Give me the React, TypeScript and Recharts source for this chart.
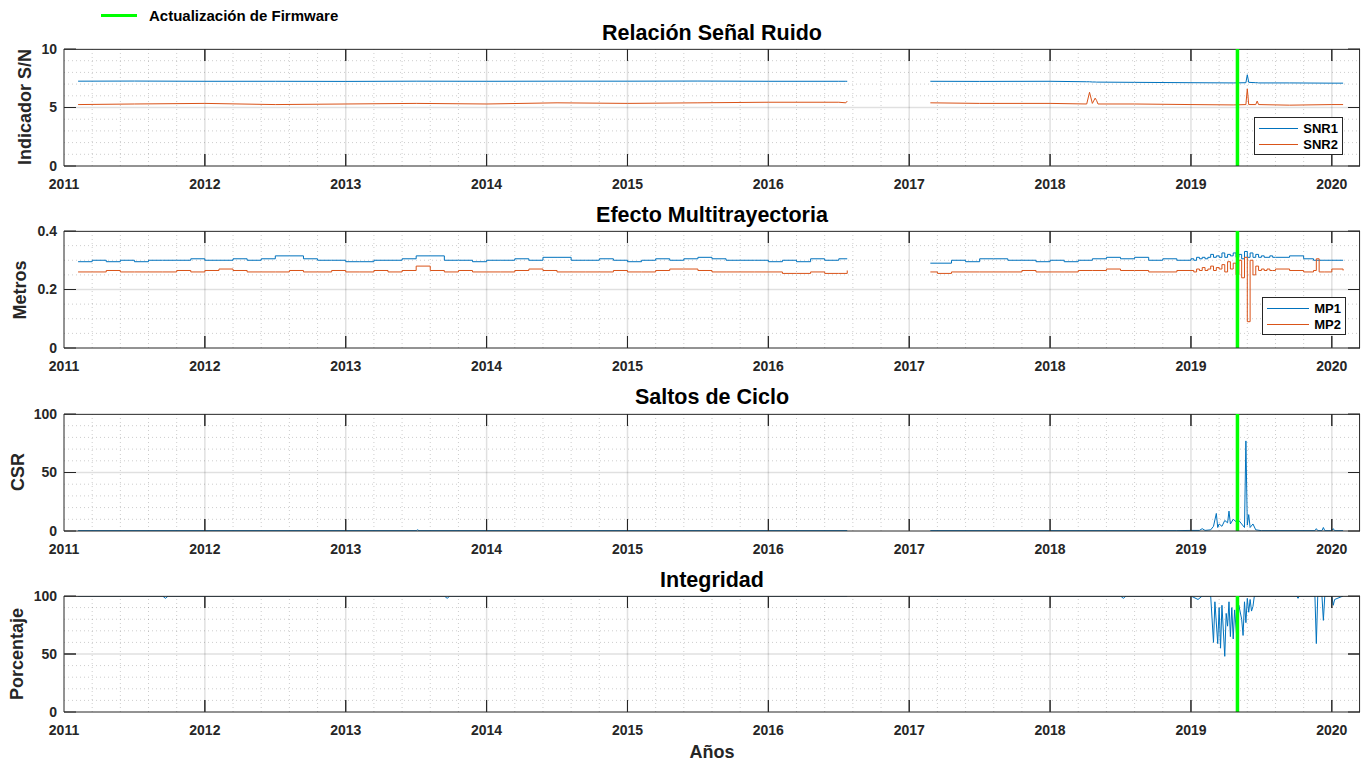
import { LineChart, Line, XAxis, YAxis, ReferenceLine } from 'recharts'

// eje x comun
const anios = [2011, 2012, 2013, 2014, 2015, 2016, 2017, 2018, 2019, 2020]
const firmware = 2019.33

// Relacion señal ruido
const snrFechas = [
  2011.1, 2011.5, 2012.0, 2012.5, 2013.0, 2013.5, 2014.0, 2014.5, 2015.0, 2015.5, 2016.0, 2016.5, 2016.55, 2016.56,
  2016.85,
  2017.15, 2017.5, 2018.0, 2018.26, 2018.28, 2018.3, 2018.32, 2018.33, 2018.34, 2018.6,
  2019.0, 2019.3, 2019.39, 2019.4, 2019.41, 2019.46, 2019.47, 2019.48, 2019.7, 2020.0, 2020.08,
]
const snr1 = [
  7.25, 7.26, 7.24, 7.24, 7.23, 7.25, 7.24, 7.25, 7.25, 7.26, 7.24, 7.24, 7.24, 7.24,
  null,
  7.24, 7.23, 7.24, 7.2, 7.2, 7.18, 7.18, 7.17, 7.17, 7.15,
  7.12, 7.1, 7.12, 7.8, 7.15, 7.12, 7.12, 7.1, 7.1, 7.08, 7.08,
]
const snr2 = [
  5.25, 5.3, 5.35, 5.25, 5.3, 5.35, 5.3, 5.4, 5.35, 5.4, 5.45, 5.45, 5.4, 5.55,
  null,
  5.4, 5.35, 5.35, 5.3, 6.3, 5.35, 5.8, 5.6, 5.3, 5.3,
  5.25, 5.22, 5.25, 6.6, 5.25, 5.25, 5.55, 5.25, 5.2, 5.25, 5.25,
]

// Multitrayectoria
const mpFechas = [
  2011.1, 2011.2, 2011.3, 2011.4, 2011.5, 2011.6, 2011.7, 2011.8, 2011.9,
  2012.0, 2012.1, 2012.2, 2012.3, 2012.4, 2012.5, 2012.6, 2012.7, 2012.8, 2012.9,
  2013.0, 2013.1, 2013.2, 2013.3, 2013.4, 2013.5, 2013.6, 2013.7, 2013.8, 2013.9,
  2014.0, 2014.1, 2014.2, 2014.3, 2014.4, 2014.5, 2014.6, 2014.7, 2014.8, 2014.9,
  2015.0, 2015.1, 2015.2, 2015.3, 2015.4, 2015.5, 2015.6, 2015.7, 2015.8, 2015.9,
  2016.0, 2016.1, 2016.2, 2016.3, 2016.4, 2016.5, 2016.56,
  2016.85,
  2017.15, 2017.2, 2017.3, 2017.4, 2017.5, 2017.6, 2017.7, 2017.8, 2017.9,
  2018.0, 2018.1, 2018.2, 2018.3, 2018.4, 2018.5, 2018.6, 2018.7, 2018.8, 2018.9,
  2019.0, 2019.02, 2019.04, 2019.06, 2019.08, 2019.1, 2019.12, 2019.14, 2019.16, 2019.18,
  2019.2, 2019.22, 2019.24, 2019.26, 2019.28, 2019.3, 2019.32, 2019.34, 2019.36, 2019.38,
  2019.4, 2019.42, 2019.44, 2019.46, 2019.48, 2019.5, 2019.52, 2019.54, 2019.56, 2019.58, 2019.6,
  2019.7, 2019.8, 2019.87, 2019.89, 2019.91, 2019.95, 2020.0, 2020.08,
]
const mp1 = [
  0.295, 0.30, 0.295, 0.30, 0.295, 0.30, 0.30, 0.30, 0.305,
  0.30, 0.30, 0.305, 0.30, 0.305, 0.315, 0.315, 0.305, 0.30, 0.30,
  0.295, 0.295, 0.30, 0.30, 0.305, 0.315, 0.315, 0.30, 0.30, 0.295,
  0.30, 0.30, 0.305, 0.30, 0.31, 0.31, 0.30, 0.30, 0.305, 0.30,
  0.295, 0.30, 0.305, 0.30, 0.305, 0.31, 0.305, 0.30, 0.30, 0.30,
  0.295, 0.30, 0.295, 0.305, 0.30, 0.305, 0.305,
  null,
  0.29, 0.29, 0.30, 0.295, 0.305, 0.305, 0.30, 0.30, 0.295,
  0.30, 0.295, 0.30, 0.305, 0.31, 0.305, 0.31, 0.30, 0.305, 0.30,
  0.305, 0.30, 0.31, 0.305, 0.31, 0.305, 0.31, 0.32, 0.31, 0.315,
  0.31, 0.325, 0.31, 0.32, 0.315, 0.325, 0.31, 0.32, 0.305, 0.33,
  0.31, 0.325, 0.31, 0.32, 0.31, 0.315, 0.31, 0.31, 0.315, 0.31, 0.31,
  0.315, 0.305, 0.30, 0.30, 0.30, 0.30, 0.30, 0.30,
]
const mp2 = [
  0.26, 0.26, 0.265, 0.26, 0.26, 0.26, 0.26, 0.265, 0.26,
  0.265, 0.27, 0.265, 0.26, 0.26, 0.26, 0.265, 0.26, 0.26, 0.265,
  0.26, 0.26, 0.265, 0.26, 0.265, 0.28, 0.265, 0.26, 0.265, 0.26,
  0.26, 0.26, 0.265, 0.27, 0.265, 0.26, 0.26, 0.26, 0.26, 0.265,
  0.26, 0.26, 0.265, 0.27, 0.27, 0.265, 0.26, 0.26, 0.26, 0.26,
  0.26, 0.255, 0.255, 0.26, 0.255, 0.255, 0.265,
  null,
  0.26, 0.255, 0.26, 0.26, 0.26, 0.26, 0.26, 0.265, 0.26,
  0.26, 0.26, 0.265, 0.265, 0.27, 0.265, 0.265, 0.26, 0.26, 0.265,
  0.265, 0.26, 0.27, 0.265, 0.275, 0.265, 0.27, 0.28, 0.265, 0.275,
  0.27, 0.285, 0.26, 0.295, 0.27, 0.29, 0.25, 0.30, 0.24, 0.31,
  0.09, 0.30, 0.25, 0.28, 0.265, 0.27, 0.265, 0.27, 0.265, 0.265, 0.27,
  0.265, 0.26, 0.265, 0.305, 0.26, 0.26, 0.27, 0.265,
]

// Saltos de ciclo
const csrFechas = [
  2011.1, 2013.5, 2013.51, 2013.52, 2016.56,
  2016.85,
  2017.15, 2018.9, 2019.0, 2019.06, 2019.08, 2019.1, 2019.14, 2019.16, 2019.18, 2019.19,
  2019.2, 2019.22, 2019.24, 2019.26, 2019.27, 2019.28, 2019.3, 2019.32, 2019.34, 2019.36,
  2019.38, 2019.39, 2019.4, 2019.41, 2019.42, 2019.44, 2019.46, 2019.5,
  2019.88, 2019.89, 2019.9, 2019.93, 2019.94, 2019.95, 2020.0, 2020.01, 2020.02, 2020.08,
]
const csr = [
  0.3, 0.3, 1, 0.3, 0.3,
  null,
  0.3, 0.3, 0.5, 0.5, 2, 0.5, 1, 4, 15, 3,
  6, 4, 9, 7, 17, 6, 10, 8, 9, 6,
  3, 77, 5, 14, 3, 6, 1, 0.3,
  0.3, 2, 0.3, 0.3, 3, 0.3, 0.3, 2, 0.3, 0.3,
]

// Integridad
const intFechas = [
  2011.1, 2011.7, 2011.72, 2011.74, 2013.7, 2013.72, 2013.74, 2016.56,
  2016.85,
  2017.15, 2018.5, 2018.52, 2018.54, 2019.0, 2019.05, 2019.08, 2019.14,
  2019.16, 2019.17, 2019.19, 2019.2, 2019.21, 2019.22, 2019.24, 2019.25, 2019.26, 2019.27,
  2019.28, 2019.29, 2019.3, 2019.31, 2019.33, 2019.34, 2019.36, 2019.37, 2019.38, 2019.39,
  2019.4, 2019.41, 2019.42, 2019.43, 2019.44, 2019.45,
  2019.75, 2019.76, 2019.77, 2019.88, 2019.89, 2019.9, 2019.93, 2019.94, 2019.95,
  2020.0, 2020.01, 2020.02, 2020.08,
]
const integridad = [
  100, 100, 98, 100, 100, 98, 100, 100,
  null,
  100, 100, 98, 100, 100, 97, 100, 100,
  60, 95, 59, 90, 55, 92, 48, 85, 74, 95,
  65, 90, 63, 88, 57, 92, 80, 66, 95, 77,
  98, 86, 97, 87, 91, 100,
  100, 98, 100, 100, 59, 100, 100, 79, 100,
  100, 92, 97, 100,
]

const AZUL = '#0072BD'
const NARANJA = '#D95319'
const EJE = '#262626'
const GRID = 'rgba(0, 0, 0, 0.12)'
const GRID_MENOR = 'rgba(0, 0, 0, 0.2)'
const FONT = '"Liberation Sans", Arial, Helvetica, sans-serif'
const X_MIN = 2011
const X_MAX = 2020.2
const ANCHO = 1364
const IZQ = 64
const DER = 4
const PLOT_W = ANCHO - IZQ - DER
const MARCA = 12

// minor grid cada 0.2 años
const minorX: number[] = []
for (let i = 1; i < 46; i++) {
  const v = Math.round((X_MIN + i * 0.2) * 10) / 10
  if (Math.abs(v - Math.round(v)) > 1e-6) minorX.push(v)
}

interface Serie {
  key: string
  color: string
}

interface PanelProps {
  top: number
  plotH: number
  data: any[]
  yDomain: [number, number]
  yTicks: number[]
  yMinor: number[]
  series: Serie[]
  curva?: 'linear' | 'stepAfter'
}

const X_MARGEN = 13
const Y_MARGEN = 7

function Panel({ top, plotH, data, yDomain, yTicks, yMinor, series, curva = 'linear' }: PanelProps) {
  const [y0, y1] = yDomain
  const epsY = (y1 - y0) * 0.003
  const epsX = 0.003
  const largoY = (y1 - y0) * (MARCA / plotH)
  const largoX = (X_MAX - X_MIN) * (MARCA / PLOT_W)
  const borde = { stroke: EJE, strokeWidth: 1 }
  const yInternos = yTicks.filter(v => v > y0 && v < y1)

  // etiqueta + marcas hacia dentro abajo y arriba (estilo matlab)
  const TickX = (p: any) => {
    const ejeY = p.y - X_MARGEN
    const interno = p.payload.value > X_MIN
    return (
      <g>
        {interno && <line x1={p.x} x2={p.x} y1={ejeY} y2={ejeY - MARCA} stroke={EJE} />}
        {interno && <line x1={p.x} x2={p.x} y1={ejeY - plotH} y2={ejeY - plotH + MARCA} stroke={EJE} />}
        <text x={p.x} y={p.y} dy="0.71em" textAnchor="middle" fill={EJE} fontSize={14} fontWeight="bold" fontFamily={FONT}>
          {p.payload.value}
        </text>
      </g>
    )
  }
  const TickY = (p: any) => {
    const ejeX = p.x + Y_MARGEN
    return (
      <g>
        <line x1={ejeX} x2={ejeX + MARCA} y1={p.y} y2={p.y} stroke={EJE} />
        <line x1={ejeX + PLOT_W} x2={ejeX + PLOT_W - MARCA} y1={p.y} y2={p.y} stroke={EJE} />
        <text x={p.x} y={p.y} dy="0.355em" textAnchor="end" fill={EJE} fontSize={14} fontWeight="bold" fontFamily={FONT}>
          {p.payload.value}
        </text>
      </g>
    )
  }

  return (
    <div style={{ position: 'absolute', left: 0, top: top - 10 }}>
      <LineChart width={ANCHO} height={plotH + 50} data={data} margin={{ top: 10, right: DER, bottom: 0, left: 0 }}>
        {minorX.map(v => (
          <ReferenceLine key={'mx' + v} x={v} stroke={GRID_MENOR} strokeDasharray="1 3" />
        ))}
        {yMinor.map(v => (
          <ReferenceLine key={'my' + v} y={v} stroke={GRID_MENOR} strokeDasharray="1 3" />
        ))}
        {anios.slice(1).map(a => (
          <ReferenceLine key={'gx' + a} x={a} stroke={GRID} strokeWidth={1.5} />
        ))}
        {yInternos.map(v => (
          <ReferenceLine key={'gy' + v} y={v} stroke={GRID} strokeWidth={1.5} />
        ))}
        <XAxis
          dataKey="t"
          type="number"
          domain={[X_MIN, X_MAX]}
          ticks={anios}
          allowDataOverflow
          height={40}
          stroke={EJE}
          tickLine={false}
          tickSize={0}
          tickMargin={X_MARGEN}
          tick={TickX}
          interval={0}
        />
        <YAxis
          type="number"
          domain={yDomain}
          ticks={yTicks}
          allowDataOverflow
          width={IZQ}
          stroke={EJE}
          tickLine={false}
          tickSize={0}
          tickMargin={Y_MARGEN}
          tick={TickY}
          interval={0}
        />
        {series.map(s => (
          <Line
            key={s.key}
            type={curva}
            dataKey={s.key}
            stroke={s.color}
            strokeWidth={1}
            dot={false}
            isAnimationActive={false}
          />
        ))}
        {anios.slice(1).map(a => (
          <ReferenceLine key={'tb' + a} segment={[{ x: a, y: y0 + epsY }, { x: a, y: y0 + largoY }]} {...borde} />
        ))}
        {anios.slice(1).map(a => (
          <ReferenceLine key={'tt' + a} segment={[{ x: a, y: y1 - epsY }, { x: a, y: y1 - largoY }]} {...borde} />
        ))}
        {yInternos.map(v => (
          <ReferenceLine key={'tl' + v} segment={[{ x: X_MIN + epsX, y: v }, { x: X_MIN + largoX, y: v }]} {...borde} />
        ))}
        {yInternos.map(v => (
          <ReferenceLine key={'tr' + v} segment={[{ x: X_MAX - epsX, y: v }, { x: X_MAX - largoX, y: v }]} {...borde} />
        ))}
        <ReferenceLine y={y1 - epsY} {...borde} />
        <ReferenceLine x={X_MAX - epsX} {...borde} />
        <ReferenceLine x={firmware} stroke="#00ff00" strokeWidth={3.5} />
      </LineChart>
    </div>
  )
}

function Leyenda({ items, left, top, width }: { items: { name: string; color: string }[]; left: number; top: number; width: number }) {
  return (
    <div
      style={{
        position: 'absolute',
        left,
        top,
        width,
        border: '1px solid ' + EJE,
        background: '#fff',
        padding: '2px 4px',
        boxSizing: 'border-box',
      }}
    >
      {items.map(it => (
        <div key={it.name} style={{ display: 'flex', alignItems: 'center', height: 16 }}>
          <span style={{ display: 'inline-block', width: 44, borderTop: '1px solid ' + it.color, marginRight: 5 }} />
          <span style={{ fontWeight: 'bold', fontSize: 13, color: '#000' }}>{it.name}</span>
        </div>
      ))}
    </div>
  )
}

function Titulo({ text, y }: { text: string; y: number }) {
  return (
    <div
      style={{
        position: 'absolute',
        left: 712,
        top: y,
        transform: 'translate(-50%, -50%)',
        fontSize: 21.5,
        fontWeight: 'bold',
        color: '#000',
        whiteSpace: 'nowrap',
      }}
    >
      {text}
    </div>
  )
}

function EtiquetaY({ text, x, y }: { text: string; x: number; y: number }) {
  return (
    <div
      style={{
        position: 'absolute',
        left: x,
        top: y,
        transform: 'translate(-50%, -50%) rotate(-90deg)',
        fontSize: 18,
        fontWeight: 'bold',
        color: EJE,
        whiteSpace: 'nowrap',
      }}
    >
      {text}
    </div>
  )
}

export default function App() {
  const snrData = snrFechas.map((t, i) => ({ t, snr1: snr1[i], snr2: snr2[i] }))
  const mpData = mpFechas.map((t, i) => ({ t, mp1: mp1[i], mp2: mp2[i] }))
  const csrData = csrFechas.map((t, i) => ({ t, csr: csr[i] }))
  const intData = intFechas.map((t, i) => ({ t, integridad: integridad[i] }))

  return (
    <div
      style={{
        position: 'absolute',
        left: 0,
        top: 0,
        width: ANCHO,
        height: 764,
        background: '#fff',
        fontFamily: FONT,
        overflow: 'hidden',
      }}
    >
      <Panel
        top={49}
        plotH={117}
        data={snrData}
        yDomain={[0, 10]}
        yTicks={[0, 5, 10]}
        yMinor={[1, 2, 3, 4, 6, 7, 8, 9]}
        series={[{ key: 'snr1', color: AZUL }, { key: 'snr2', color: NARANJA }]}
      />
      <Panel
        top={231}
        plotH={117}
        data={mpData}
        yDomain={[0, 0.4]}
        yTicks={[0, 0.2, 0.4]}
        yMinor={[0.05, 0.1, 0.15, 0.25, 0.3, 0.35]}
        series={[{ key: 'mp1', color: AZUL }, { key: 'mp2', color: NARANJA }]}
        curva="stepAfter"
      />
      <Panel
        top={414}
        plotH={117}
        data={csrData}
        yDomain={[0, 100]}
        yTicks={[0, 50, 100]}
        yMinor={[10, 20, 30, 40, 60, 70, 80, 90]}
        series={[{ key: 'csr', color: AZUL }]}
      />
      <Panel
        top={596}
        plotH={116}
        data={intData}
        yDomain={[0, 100]}
        yTicks={[0, 50, 100]}
        yMinor={[10, 20, 30, 40, 60, 70, 80, 90]}
        series={[{ key: 'integridad', color: AZUL }]}
      />

      <Titulo text="Relación Señal Ruido" y={33} />
      <Titulo text="Efecto Multitrayectoria" y={215} />
      <Titulo text="Saltos de Ciclo" y={397} />
      <Titulo text="Integridad" y={580} />

      <EtiquetaY text="Indicador S/N" x={25} y={107} />
      <EtiquetaY text="Metros" x={20} y={290} />
      <EtiquetaY text="CSR" x={18} y={472} />
      <EtiquetaY text="Porcentaje" x={17} y={654} />

      <div
        style={{
          position: 'absolute',
          left: 712,
          top: 752,
          transform: 'translate(-50%, -50%)',
          fontSize: 18,
          fontWeight: 'bold',
          color: EJE,
        }}
      >
        Años
      </div>

      <Leyenda
        left={1254}
        top={117}
        width={89}
        items={[{ name: 'SNR1', color: AZUL }, { name: 'SNR2', color: NARANJA }]}
      />
      <Leyenda
        left={1262}
        top={297}
        width={84}
        items={[{ name: 'MP1', color: AZUL }, { name: 'MP2', color: NARANJA }]}
      />

      <div style={{ position: 'absolute', left: 101, top: 8, display: 'flex', alignItems: 'center', height: 14 }}>
        <span style={{ display: 'inline-block', width: 36, borderTop: '3px solid #00ff00', marginRight: 12 }} />
        <span style={{ fontWeight: 'bold', fontSize: 15, color: '#000', whiteSpace: 'nowrap' }}>
          Actualización de Firmware
        </span>
      </div>
    </div>
  )
}
